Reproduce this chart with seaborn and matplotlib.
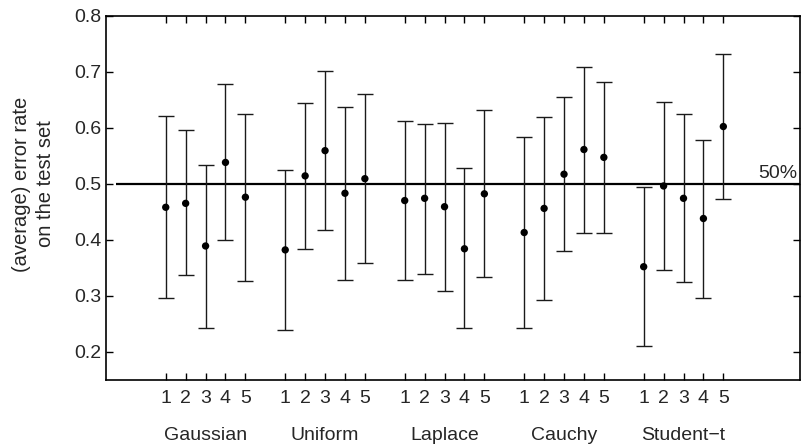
import numpy as np
import pandas as pd
import matplotlib
matplotlib.use("Agg")
import matplotlib.pyplot as plt
import seaborn as sns

groups = ["Gaussian", "Uniform", "Laplace", "Cauchy", "Student\u2212t"]
methods = ["1", "2", "3", "4", "5"]

gaussian_mean = [0.458, 0.465, 0.389, 0.538, 0.476]
gaussian_low = [0.296, 0.337, 0.243, 0.400, 0.327]
gaussian_high = [0.621, 0.595, 0.534, 0.677, 0.624]

uniform_mean = [0.382, 0.514, 0.559, 0.483, 0.509]
uniform_low = [0.240, 0.383, 0.418, 0.329, 0.358]
uniform_high = [0.524, 0.644, 0.701, 0.637, 0.660]

laplace_mean = [0.470, 0.474, 0.459, 0.384, 0.482]
laplace_low = [0.329, 0.339, 0.309, 0.242, 0.333]
laplace_high = [0.611, 0.607, 0.609, 0.528, 0.631]

cauchy_mean = [0.413, 0.456, 0.517, 0.561, 0.547]
cauchy_low = [0.243, 0.293, 0.380, 0.412, 0.412]
cauchy_high = [0.583, 0.619, 0.655, 0.709, 0.681]

student_mean = [0.352, 0.496, 0.474, 0.438, 0.602]
student_low = [0.210, 0.347, 0.325, 0.297, 0.472]
student_high = [0.494, 0.645, 0.624, 0.578, 0.731]

means = [gaussian_mean, uniform_mean, laplace_mean, cauchy_mean, student_mean]
lows = [gaussian_low, uniform_low, laplace_low, cauchy_low, student_low]
highs = [gaussian_high, uniform_high, laplace_high, cauchy_high, student_high]

rows = []
for g, name in enumerate(groups):
    for k, m in enumerate(methods):
        rows.append({"group": name, "method": m, "pos": g * 6 + k + 1,
                     "mean": means[g][k], "low": lows[g][k], "high": highs[g][k]})
df = pd.DataFrame(rows)

sns.set_theme(style="ticks")
plt.rcParams["font.family"] = ["Liberation Sans", "DejaVu Sans"]

fig = plt.figure(figsize=(8.01, 4.47), dpi=100)
ax = fig.add_axes([106 / 801, 67 / 447, (800 - 106) / 801, (380 - 15.5) / 447])

ax.errorbar(df["pos"], df["mean"],
            yerr=[df["mean"] - df["low"], df["high"] - df["mean"]],
            fmt="none", ecolor="#1a1a1a", elinewidth=1.0, capsize=6, capthick=1.0, zorder=2)
sns.scatterplot(data=df, x="pos", y="mean", ax=ax, color="black", s=28,
                edgecolor="none", zorder=3, legend=False)

ax.set_xlim(-2, 32.85)
ax.set_ylim(0.15, 0.8)
ax.hlines(0.5, -1.5, 32.85, color="black", lw=1.6, zorder=1)
ax.text(32.7, 0.503, "50%", ha="right", va="bottom", fontsize=14)

ax.set_xticks(df["pos"])
ax.set_xticklabels(df["method"], fontsize=14)
ax.set_yticks([0.2, 0.3, 0.4, 0.5, 0.6, 0.7, 0.8])
ax.set_yticklabels(["0.2", "0.3", "0.4", "0.5", "0.6", "0.7", "0.8"], fontsize=14)
ax.tick_params(direction="in", length=5, width=1, top=True, right=True, color="black")
ax.tick_params(axis="x", pad=7)
ax.tick_params(axis="y", pad=3)
for s in ax.spines.values():
    s.set_color("black")
    s.set_linewidth(1.2)

for g, name in enumerate(groups):
    ax.text(g * 6 + 3, -0.151, name, transform=ax.get_xaxis_transform(),
            ha="center", va="center", fontsize=14)

ax.set_xlabel("")
ax.set_ylabel("(average) error rate\non the test set", fontsize=14.5,
              linespacing=1.3)
ax.yaxis.set_label_coords(-0.074, 0.538)

fig.savefig("out.png", dpi=100)
